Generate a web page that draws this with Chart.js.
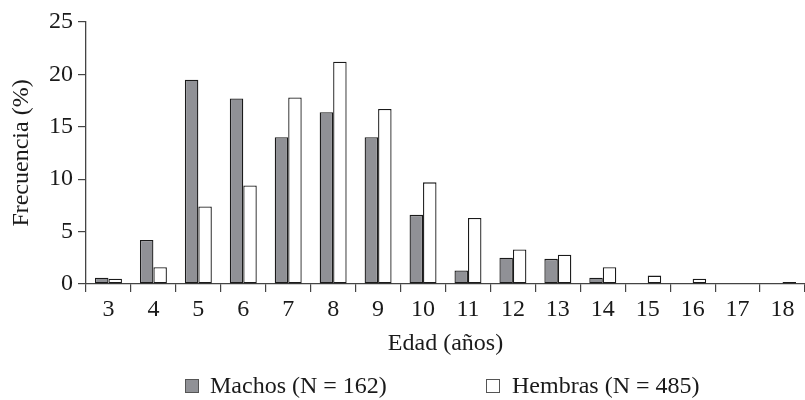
<!DOCTYPE html>
<html>
<head>
<meta charset="utf-8">
<script src="https://cdn.jsdelivr.net/npm/chart.js@4"></script>
<style>
  html, body { margin: 0; padding: 0; background: #fff; }
  #wrap { width: 805px; height: 400px; }
</style>
</head>
<body>
<div id="wrap"><canvas id="c" width="805" height="400"></canvas></div>
<script>
const ages = ['3','4','5','6','7','8','9','10','11','12','13','14','15','16','17','18'];
const machos = [0.6, 4.2, 19.5, 17.7, 14.0, 16.4, 14.0, 6.6, 1.3, 2.5, 2.4, 0.6, 0, 0, 0, 0];
const hembras = [0.5, 1.6, 7.4, 9.4, 17.8, 21.2, 16.7, 9.7, 6.3, 3.3, 2.8, 1.6, 0.8, 0.5, 0, 0.2];
const seriesLabels = ['Machos (N = 162)', 'Hembras (N = 485)'];
const yTicks = [0, 5, 10, 15, 20, 25];

const FONT = 'Liberation Serif';
const FS = 24;
const TXT = '#1a1a1a';

const legendPlugin = {
  id: 'customLegend',
  afterDraw(chart) {
    const ctx = chart.ctx;
    const items = [
      { x: 185, size: 14, fill: '#909196', stroke: '#555', textX: 210 },
      { x: 486, size: 14, fill: '#ffffff', stroke: '#555', textX: 512 }
    ];
    const cy = 386;
    ctx.save();
    ctx.font = FS + 'px "' + FONT + '"';
    ctx.textBaseline = 'middle';
    chart.data.datasets.forEach((ds, i) => {
      const it = items[i];
      ctx.fillStyle = it.fill;
      ctx.fillRect(it.x, cy - it.size / 2, it.size, it.size);
      ctx.strokeStyle = it.stroke;
      ctx.lineWidth = 1;
      ctx.strokeRect(it.x + 0.5, cy - it.size / 2 + 0.5, it.size - 1, it.size - 1);
      ctx.fillStyle = TXT;
      ctx.fillText(ds.label, it.textX, cy + 1);
    });
    ctx.restore();
  }
};

new Chart(document.getElementById('c'), {
  type: 'bar',
  data: {
    labels: ages,
    datasets: [
      { label: seriesLabels[0], data: machos, backgroundColor: '#909196', borderColor: '#1a1a1a',
        borderWidth: 1.3, borderSkipped: false, categoryPercentage: 0.6, barPercentage: 1.0 },
      { label: seriesLabels[1], data: hembras, backgroundColor: '#ffffff', borderColor: '#1a1a1a',
        borderWidth: 1.3, borderSkipped: false, categoryPercentage: 0.6, barPercentage: 1.0 }
    ]
  },
  options: {
    responsive: false,
    animation: false,
    devicePixelRatio: 1,
    layout: { padding: { top: 22, right: 0, bottom: 0, left: 0 } },
    plugins: { legend: { display: false }, tooltip: { enabled: false } },
    scales: {
      x: {
        offset: true,
        grid: { display: true, drawOnChartArea: false, drawTicks: true, tickLength: 8, offset: true, color: '#444', lineWidth: 1.2 },
        border: { display: true, color: '#444', width: 1.3 },
        ticks: { color: TXT, font: { family: FONT, size: FS }, padding: 3, maxRotation: 0, autoSkip: false },
        title: { display: true, text: 'Edad (años)', color: TXT, font: { family: FONT, size: FS }, padding: { top: 0, bottom: 42 } },
        afterFit(scale) { scale.height = 116; }
      },
      y: {
        min: 0, max: 25,
        afterBuildTicks(scale) { scale.ticks = yTicks.map(v => ({ value: v })); },
        grid: { display: true, drawOnChartArea: false, drawTicks: true, tickLength: 8, color: '#444', lineWidth: 1.2 },
        border: { display: true, color: '#444', width: 1.3 },
        ticks: { color: TXT, font: { family: FONT, size: FS }, padding: 5 },
        title: { display: true, text: 'Frecuencia (%)', color: TXT, font: { family: FONT, size: FS }, padding: { top: 7, bottom: 0 } },
        afterFit(scale) { scale.width = 86; }
      }
    }
  },
  plugins: [legendPlugin]
});
</script>
</body>
</html>
